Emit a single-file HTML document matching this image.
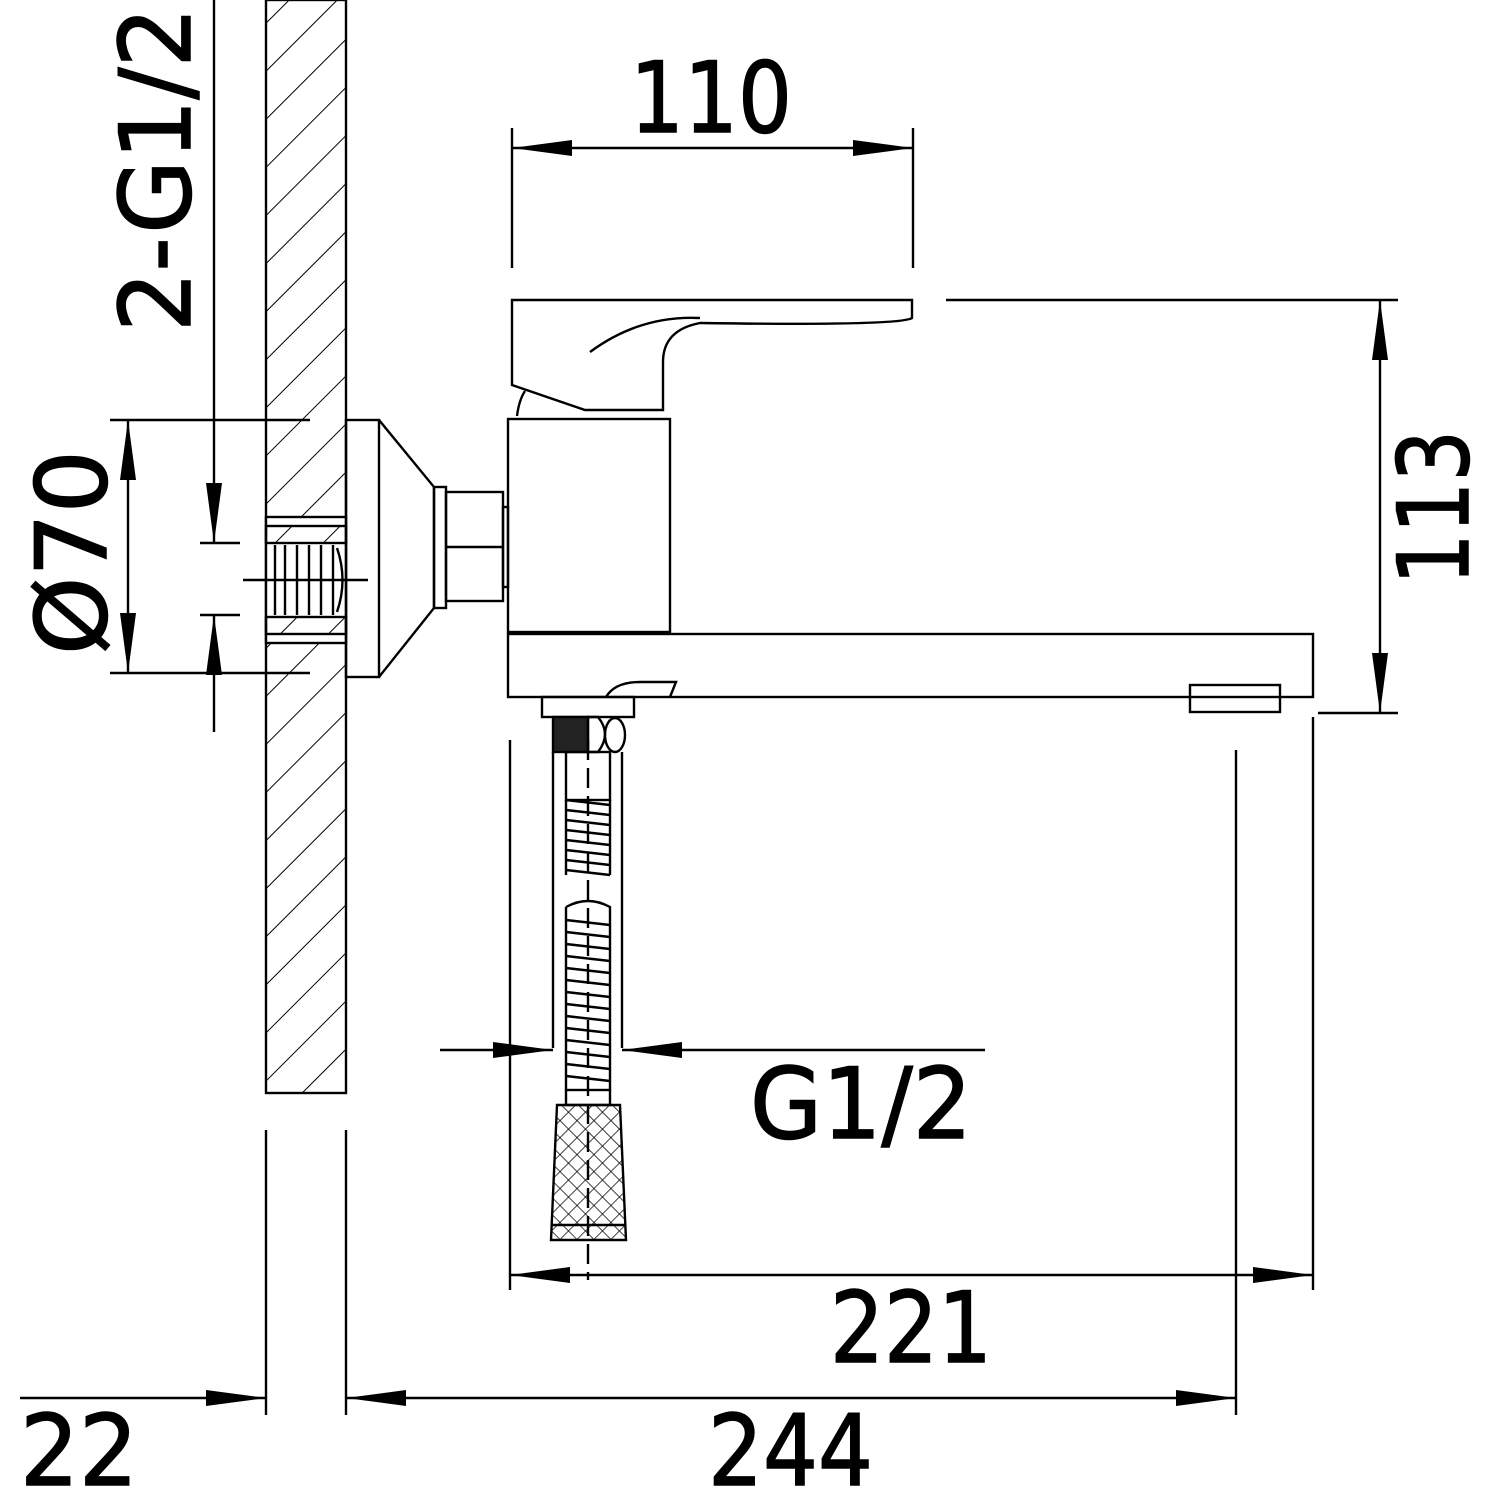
<!DOCTYPE html>
<html><head><meta charset="utf-8"><style>
html,body{margin:0;padding:0;background:#fff}
svg{display:block}
text{font-family:"DejaVu Sans","Liberation Sans",sans-serif;fill:#000;font-size:98px;stroke:#000;stroke-width:1.5}
</style></head><body>
<svg width="1490" height="1489" viewBox="0 0 1490 1489" xmlns="http://www.w3.org/2000/svg">
<defs>
<pattern id="h" patternUnits="userSpaceOnUse" width="34" height="34" patternTransform="rotate(45)">
<line x1="0" y1="0" x2="0" y2="34" stroke="#000" stroke-width="2"/>
</pattern>
<pattern id="x" patternUnits="userSpaceOnUse" width="12" height="12" patternTransform="rotate(45)">
<path d="M0 0V12M0 0H12" stroke="#000" stroke-width="1.5"/>
</pattern>
<marker id="a" viewBox="0 0 60 16" refX="60" refY="8" markerWidth="60" markerHeight="16" markerUnits="userSpaceOnUse" orient="auto-start-reverse"><path d="M0 0L60 8L0 16Z"/></marker>
</defs>
<g fill="none" stroke="#000" stroke-width="2.4">
<rect x="266" y="0" width="80" height="1093" fill="url(#h)"/>
<rect x="267" y="517" width="78" height="126" fill="#fff" stroke="none"/>
<rect x="266" y="517" width="80" height="126"/>
<rect x="266" y="526" width="80" height="17" fill="url(#h)"/>
<rect x="266" y="617" width="80" height="17" fill="url(#h)"/>
<path d="M275 545V615M285 545V615M297 545V615M309 545V615M321 545V615M333 545V615"/>
<path d="M337 548Q348 580 337 612"/>
<line x1="243" y1="580" x2="368" y2="580"/>
<rect x="346" y="420" width="33" height="257"/>
<path d="M379 420L434 487V608L379 677"/>
<rect x="434" y="487" width="12" height="121"/>
<rect x="446" y="492" width="57" height="109"/>
<line x1="446" y1="547" x2="503" y2="547"/>
<rect x="503" y="507" width="5" height="80"/>
<rect x="508" y="419" width="162" height="213"/>
<path d="M512 300H912V318Q900 326 700 323Q663 330 663 362V410H585L512 385Z"/>
<path d="M590 352Q640 315 700 318"/>
<path d="M517 416Q519 400 525 391"/>
<rect x="508" y="634" width="805" height="63"/>
<path d="M606 697Q615 682 640 682H676L670 697"/>
<rect x="1190" y="685" width="90" height="27"/>
<rect x="542" y="697" width="92" height="20"/>
<rect x="553" y="717" width="35" height="35" fill="#222"/>
<path d="M588 717H598Q612 734 598 752H588Z"/>
<ellipse cx="615" cy="735" rx="10" ry="17"/>
<line x1="553" y1="752" x2="553" y2="1048"/>
<line x1="622" y1="752" x2="622" y2="1048"/>
<rect x="566" y="752" width="44" height="48"/>
<line x1="588" y1="740" x2="588" y2="1280" stroke-dasharray="20 8"/>
<path d="M566 800L610 805M566 810L610 815M566 820L610 825M566 830L610 835M566 840L610 845M566 850L610 855M566 860L610 865M566 870L610 875M566 800V875M610 800V875"/>
<path d="M566 907Q588 895 610 907V1090M566 907V1090"/>
<path d="M566 920L610 925M566 932L610 937M566 944L610 949M566 956L610 961M566 968L610 973M566 980L610 985M566 992L610 997M566 1004L610 1009M566 1016L610 1021M566 1028L610 1033M566 1040L610 1045M566 1052L610 1057M566 1064L610 1069M566 1076L610 1081"/>
<rect x="566" y="1090" width="44" height="15"/>
<path d="M557 1105H620L626 1240H551Z" fill="url(#x)"/>
<line x1="551" y1="1225" x2="626" y2="1225"/>
<line x1="512" y1="128" x2="512" y2="268"/>
<line x1="913" y1="128" x2="913" y2="268"/>
<line x1="512" y1="148" x2="913" y2="148" marker-start="url(#a)" marker-end="url(#a)"/>
<line x1="946" y1="300" x2="1398" y2="300"/>
<line x1="1318" y1="713" x2="1398" y2="713"/>
<line x1="1380" y1="300" x2="1380" y2="713" marker-start="url(#a)" marker-end="url(#a)"/>
<line x1="110" y1="420" x2="310" y2="420"/>
<line x1="110" y1="673" x2="310" y2="673"/>
<line x1="128" y1="420" x2="128" y2="673" marker-start="url(#a)" marker-end="url(#a)"/>
<line x1="214" y1="0" x2="214" y2="543" marker-end="url(#a)"/>
<line x1="200" y1="543" x2="240" y2="543"/>
<line x1="200" y1="615" x2="240" y2="615"/>
<line x1="214" y1="732" x2="214" y2="615" marker-end="url(#a)"/>
<line x1="440" y1="1050" x2="553" y2="1050" marker-end="url(#a)"/>
<line x1="985" y1="1050" x2="622" y2="1050" marker-end="url(#a)"/>
<line x1="510" y1="740" x2="510" y2="1290"/>
<line x1="1313" y1="717" x2="1313" y2="1290"/>
<line x1="510" y1="1275" x2="1313" y2="1275" marker-start="url(#a)" marker-end="url(#a)"/>
<line x1="266" y1="1130" x2="266" y2="1415"/>
<line x1="346" y1="1130" x2="346" y2="1415"/>
<line x1="1236" y1="750" x2="1236" y2="1415"/>
<line x1="346" y1="1398" x2="1236" y2="1398" marker-start="url(#a)" marker-end="url(#a)"/>
<line x1="20" y1="1398" x2="266" y2="1398" marker-end="url(#a)"/>
</g>
<text x="630" y="132" textLength="162" lengthAdjust="spacingAndGlyphs">110</text>
<text x="750" y="1138" textLength="222" lengthAdjust="spacingAndGlyphs">G1/2</text>
<text x="830" y="1362" textLength="162" lengthAdjust="spacingAndGlyphs">221</text>
<text x="708" y="1485" textLength="165" lengthAdjust="spacingAndGlyphs">244</text>
<text x="20" y="1485" textLength="118" lengthAdjust="spacingAndGlyphs">22</text>
<text transform="translate(1468,585) rotate(-90)" textLength="155" lengthAdjust="spacingAndGlyphs">113</text>
<text transform="translate(106,655) rotate(-90)" textLength="205" lengthAdjust="spacingAndGlyphs">Ø70</text>
<text transform="translate(190,332) rotate(-90)" textLength="325" lengthAdjust="spacingAndGlyphs">2-G1/2</text>
</svg>
</body></html>
